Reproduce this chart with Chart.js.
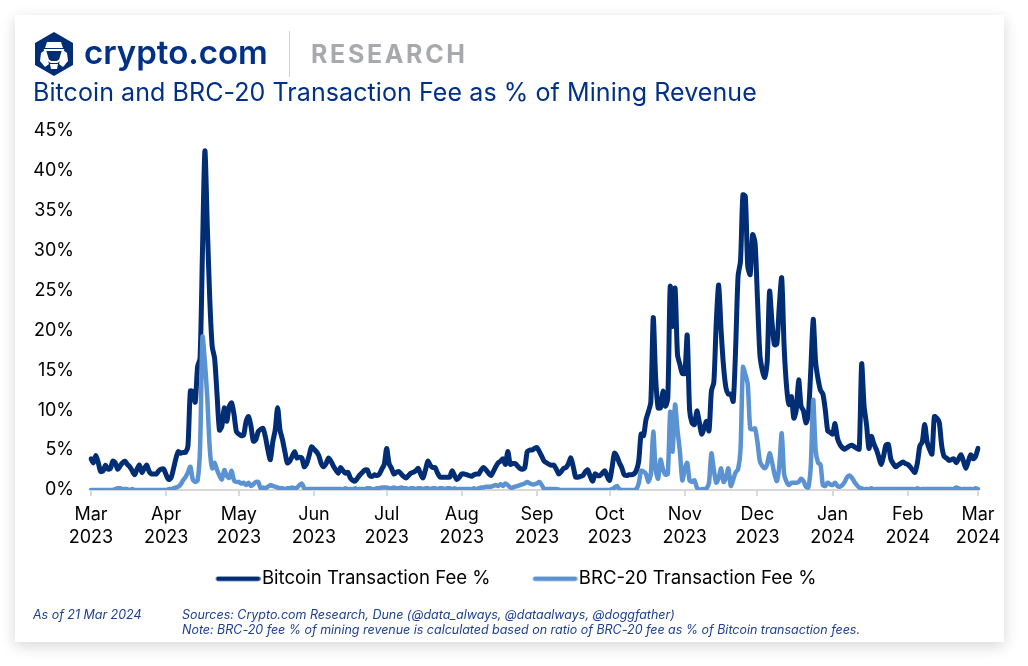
<!DOCTYPE html>
<html><head><meta charset="utf-8">
<script src="https://cdn.jsdelivr.net/npm/chart.js@4/dist/chart.umd.min.js"></script>
<style>
html,body{margin:0;padding:0;background:#fff;}
#page{position:relative;width:1028px;height:666px;overflow:hidden;background:#fff;font-family:Inter,sans-serif;}
#card{position:absolute;left:15px;top:15px;width:989px;height:627px;background:#fff;box-shadow:0 4px 14px rgba(0,0,0,.16);}
#c{position:absolute;left:0;top:0;}
.t{position:absolute;white-space:nowrap;}
#brand{left:84px;top:31px;font-size:33px;font-weight:600;color:#003087;line-height:42px;}
#rule{position:absolute;left:289px;top:31px;width:1px;height:46px;background:#cfcfcf;}
#res{left:311px;top:38px;font-size:25px;font-weight:700;letter-spacing:2.65px;color:#a7a9ac;line-height:32px;}
#title{left:33px;top:76px;font-size:25px;font-weight:400;letter-spacing:.08px;color:#003087;line-height:32px;}
.foot{font-size:12.5px;font-style:italic;color:#1c3f8f;line-height:15px;font-family:Inter,sans-serif;letter-spacing:-.02px;}
svg{position:absolute;left:34px;top:31px;}
</style></head><body>
<div id="page">
<div id="card"></div>
<canvas id="c" width="1028" height="666" style="width:1028px;height:666px"></canvas>
<svg width="40" height="46" viewBox="0 0 40 46">
<polygon points="20,1 39,12 39,34 20,45 1,34 1,12" fill="#002d74"/>
<polygon points="13,11 27,11 29,17 11,17" fill="#fff"/>
<polygon points="11,19 29,19 26,29 23,31 17,31 14,29" fill="#002d74" stroke="#fff" stroke-width="2"/>
<polygon points="7,22 11,19 15,33 11,36 6,30" fill="#fff"/>
<polygon points="33,22 29,19 25,33 29,36 34,30" fill="#fff"/>
<polygon points="16,33 24,33 23,38 17,38" fill="#fff"/>
</svg>
<div class="t" id="brand">crypto.com</div>
<div id="rule"></div>
<div class="t" id="res">RESEARCH</div>
<div class="t" id="title">Bitcoin and BRC-20 Transaction Fee as % of Mining Revenue</div>
<div class="t foot" style="left:33px;top:607px">As of 21 Mar 2024</div>
<div class="t foot" style="left:182px;top:607px">Sources: Crypto.com Research, Dune (@data_always, @dataalways, @doggfather)</div>
<div class="t foot" style="left:182px;top:622px">Note: BRC-20 fee % of mining revenue is calculated based on ratio of BRC-20 fee as % of Bitcoin transaction fees.</div>
</div>
<script>
const seriesNames = ["Bitcoin Transaction Fee %", "BRC-20 Transaction Fee %"];
const monthTicks = [
  [0,"Mar","2023"],[31,"Apr","2023"],[61,"May","2023"],[92,"Jun","2023"],[122,"Jul","2023"],[153,"Aug","2023"],
  [184,"Sep","2023"],[214,"Oct","2023"],[245,"Nov","2023"],[275,"Dec","2023"],[306,"Jan","2024"],[337,"Feb","2024"],[366,"Mar","2024"]
];
const btcFee = [
 3.9,3.4,4.3,3.4,2.3,2.4,3.1,2.6,2.7,3.6, 3.4,2.6,3.0,3.4,3.6,3.2,2.9,2.4,1.9,2.6, 3.1,2.2,2.7,3.1,2.3,2.0,2.0,2.0,2.4,2.6, 2.6,
 1.9,1.3,1.5,2.6,3.9,4.8,4.6,4.7,4.7,5.5, 12.4,12.3,11.0,15.5,16.5,30,42.5,33,24,18, 16.5,12,7.5,8,10.3,8.6,10.4,10.9,9.5,7.3,
 7.0,6.8,6.9,8.6,9.2,8.0,6.1,6.3,7.3,7.6, 7.7,6.6,5.0,3.8,6.0,7.5,10.3,7.5,6.3,4.8, 3.4,3.6,4.2,4.8,4.0,4.1,4.0,2.9,3.3,4.3, 5.4,
 5.1,4.8,4.3,3.3,2.9,3.3,4.0,3.6,3.0,2.5, 2.1,2.8,2.4,2.1,2.2,1.5,1.2,1.1,1.5,1.9, 2.2,2.5,2.5,1.8,1.7,1.9,1.8,2.0,2.6,3.2,
 5.2,3.3,2.7,2.0,2.2,2.3,2.0,1.7,1.5,1.8, 2.1,2.2,2.4,2.7,2.0,1.5,2.5,3.6,3.1,2.8, 2.8,2.1,1.6,1.6,1.6,1.6,1.6,2.4,1.8,1.3, 1.6,
 2.0,2.0,1.9,1.8,1.7,1.9,2.0,2.0,2.5,2.8, 2.5,2.1,1.8,2.3,2.9,3.4,3.6,3.9,3.2,4.8, 3.2,3.3,3.3,3.0,2.7,2.6,2.8,4.8,5.0,5.0, 5.2,
 5.3,4.8,4.2,3.6,3.4,3.2,3.1,3.1,2.6,2.0, 2.3,2.7,2.8,3.3,4.0,2.9,1.6,1.6,1.7,1.8, 2.3,2.5,1.7,1.1,2.0,1.8,1.8,2.1,2.4,1.7,
 1.2,2.8,4.6,4.2,3.4,2.8,1.9,1.8,1.9,1.9, 2.0,2.4,3.6,7,6.8,8.8,9.8,11,21.6,14, 10.3,10.3,12.4,10.5,11.5,25.5,20.5,25.3,17,15.7, 14.6,
 14.6,19.4,10,8.4,8.2,9.9,8.5,7,7.8,8.6, 7.4,12.4,13.5,21,25.7,20,15.5,12.8,12,12, 11.1,17.8,26.8,28.7,37,36.8,28.0,27,32,31,
 24,17,15,14.1,16,24.9,21,18.2,18.3,23, 26.6,18,13,10.7,11.7,9,10,13.8,10.5,9.9, 8.4,9.5,15,21.4,16,13.9,12.5,12,10,7.4, 7.2,
 7.0,8.3,6.5,5.7,5.3,5.1,5.3,5.5,5.6,5.4, 5.2,5.1,15.8,10.5,8.2,5.2,6.7,5.8,5.1,4.2, 3.2,4.2,5.6,5.7,3.9,3.3,2.9,3.1,3.3,3.5, 3.3,
 3.2,2.9,2.5,2.2,3.4,5.5,6.0,8.2,6,5.1, 4.5,9.2,9.0,8.5,5.6,4.2,4.0,3.7,3.8,3.9, 3.4,3.9,4.4,3.6,2.7,3.6,4.4,3.9,4.2,
 5.2
];
const brcFee = [
 0,0,0,0,0,0,0,0,0,0, .1,.2,.2,.1,.1,.1,0,.1,0,0, 0,0,0,0,0,0,0,0,0,0, 0,
 0,.1,.1,.2,.3,.4,.7,1.2,1.6,2.2, 2.9,1.3,1.0,1.2,5.2,19.2,16,11.5,5.2,2.7, 3.4,2.5,1.8,1.3,2.5,1.8,1.5,2.4,1.2,1.0,
 1.0,.8,.9,.6,.9,.5,.7,1,1,.2, .3,.2,.4,.6,.5,.4,.3,.2,.2,.1, .2,.2,.3,.2,.3,.6,.8,.2,.1,.1, .1,
 .1,.1,.1,.1,.1,.1,.1,.1,.1,.1, .1,.1,.1,.2,.1,.1,.1,.2,.1,.1, .1,.1,.2,.2,.1,.1,.2,.2,.3,.3,
 .3,.2,.2,.3,.2,.2,.3,.2,.2,.1, .2,.2,.1,.2,.2,.1,.2,.2,.1,.2, .2,.1,.2,.2,.1,.2,.2,.1,.2,.1, .1,
 .1,.1,.1,.1,.1,.2,.1,.2,.3,.3, .4,.4,.4,.5,.6,.5,.7,.5,.8,.6, .3,.3,.4,.5,.6,.7,.8,1.0,.8,.7, .7,
 .8,1.0,.6,.1,.1,.1,.1,.1,.1,.05, 0,0,0,0,0,0,0,0,0,0, 0,0,0,0,0,0,0,0,0,0,
 0,.1,.3,.5,.1,0,0,0,0,0, 0,.1,.8,2.4,2.3,2.0,1.0,2.0,7.3,2.5, 1.4,3.8,2.6,1.9,2.0,9.8,4.8,10.7,7.5,4.8, 1.2,
 2.6,3.4,1.2,1.0,1.2,.3,0,.1,.1,.2, .9,4.6,2.5,.9,1.5,2.7,1,1.5,2.7,.5, 1.3,2.2,2.6,5,15.4,14.5,13.2,7.7,7.6,7.7,
 6,3.6,3.0,2.7,3.2,4.6,3.5,2,1.1,3, 7.1,2,1.0,.6,.9,.9,.9,1.0,1.4,1.1, .4,.3,3,11.3,5,3.4,3.2,.6,.5,.9, .7,
 .6,.9,.5,.4,.6,1.0,1.6,1.8,1.5,1.0, .6,.3,.2,.1,.1,.1,.2,.1,.1,.1, .1,.1,.1,.1,.1,.1,.1,.1,.1,.1, .1,
 .1,.1,.1,.1,.2,.1,.1,.1,.1,.1, .1,.1,.1,.1,.1,.1,.1,.1,.1,.1, .3,.2,.1,.1,.1,.1,.1,.1,.2,
 .1
];
const dayLabels = btcFee.map((_, i) => "d" + i);
const yMax = 45, yStep = 5;
const colors = ["#002d74", "#5b92d2"];

function legendMark(color) {
  const cv = document.createElement("canvas");
  cv.width = 53; cv.height = 6;
  const g = cv.getContext("2d");
  g.strokeStyle = color; g.lineWidth = 4.5; g.lineCap = "round";
  g.beginPath(); g.moveTo(10.5, 3); g.lineTo(50.5, 3); g.stroke();
  return cv;
}
const moveLegend = {
  id: "moveLegend",
  afterLayout(chart) {
    const l = chart.legend;
    l.left += 27; l.right += 27;
    l.top -= 30; l.bottom -= 30;
  }
};
const font = { family: "Inter, sans-serif", size: 18 };
new Chart(document.getElementById("c"), {
  type: "line",
  plugins: [moveLegend],
  data: {
    labels: dayLabels,
    datasets: [
      { label: seriesNames[0], data: btcFee, borderColor: colors[0], backgroundColor: colors[0], borderWidth: 5, order: 2, pointStyle: legendMark(colors[0]) },
      { label: seriesNames[1], data: brcFee, borderColor: colors[1], backgroundColor: colors[1], borderWidth: 4.5, order: 1, pointStyle: legendMark(colors[1]) }
    ]
  },
  options: {
    responsive: false, animation: false, devicePixelRatio: 1,
    layout: { padding: { left: 0, right: 50, top: 131, bottom: 38 } },
    elements: { point: { radius: 0 }, line: { tension: 0.25, borderCapStyle: "round", borderJoinStyle: "round" } },
    plugins: {
      tooltip: { enabled: false },
      legend: {
        display: true, position: "bottom",
        labels: { color: "#000", font: { family: font.family, size: 18.6 }, usePointStyle: true, pointStyleWidth: 37, padding: 42, boxHeight: 6,
                  sort: (a, b) => a.datasetIndex - b.datasetIndex }
      }
    },
    scales: {
      x: {
        type: "category",
        offset: false,
        grid: { drawOnChartArea: false, drawTicks: true, tickLength: 6, color: "#d9d9d9", lineWidth: 2 },
        border: { display: true, color: "#d9d9d9", width: 2 },
        afterBuildTicks: s => { s.ticks = monthTicks.map(t => ({ value: t[0] })); },
        afterFit: s => { s.height = 67.5; },
        ticks: {
          autoSkip: false, maxRotation: 0, minRotation: 0, color: "#000", font: { ...font, lineHeight: 1.28 }, padding: 7,
          callback: v => { const m = monthTicks.find(t => t[0] === v); return m ? [m[1], m[2]] : ""; }
        }
      },
      y: {
        min: 0, max: yMax,
        grid: { display: false },
        border: { display: false },
        afterFit: s => { s.width = 91; },
        ticks: { stepSize: yStep, color: "#000", font, padding: 9, callback: v => v + "%" }
      }
    }
  }
});
</script>
</body></html>
